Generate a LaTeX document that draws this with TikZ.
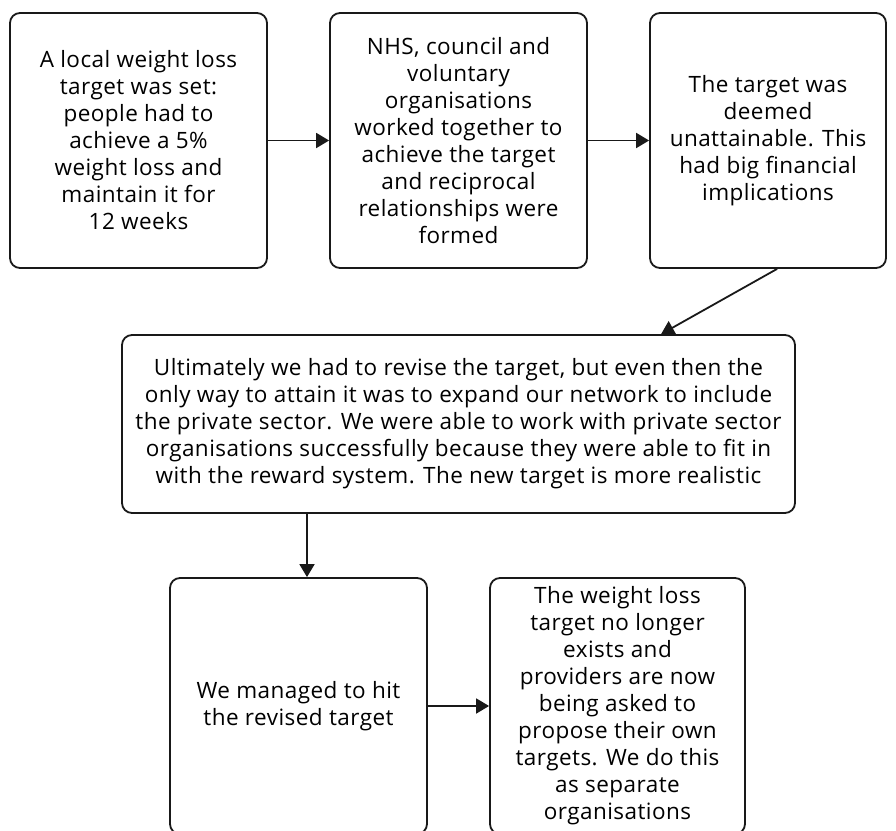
\documentclass[tikz,border=0pt]{standalone}
\usepackage{fontspec}
\setmainfont{Open Sans}[LetterSpace=2]
\usetikzlibrary{arrows.meta,calc}
\begin{document}
\begin{tikzpicture}[x=1pt,y=-1pt,
  box/.style={draw=black!90, line width=1.8pt, rounded corners=10pt,
    align=center, inner sep=0pt, font=\fontsize{22.5}{27}\selectfont},
  conn/.style={draw=black!90, line width=1.8pt,
    -{Triangle[length=13pt,width=15pt]}}]
\useasboundingbox (0,0) rectangle (896,830);
\clip (0,0) rectangle (896,830);

% top row
\node[box, minimum width=257pt, minimum height=255pt] (b1) at (138.5,140.5)
  {A local weight loss\\ target was set:\\ people had to\\ achieve a 5\%\\ weight loss and\\ maintain it for\\ 12 weeks};
\node[box, minimum width=257pt, minimum height=255pt] (b2) at (458.5,140.5)
  {NHS, council and\\ voluntary\\ organisations\\ worked together to\\ achieve the target\\ and reciprocal\\ relationships were\\ formed};
\node[box, minimum width=236pt, minimum height=255pt] (b3) at (768,140.5)
  {The target was\\ deemed\\ unattainable. This\\ had big financial\\ implications};

% middle row
\node[box, minimum width=673pt, minimum height=178pt] (b4) at (458.5,424)
  {Ultimately we had to revise the target, but even then the\\ only way to attain it was to expand our network to include\\ the private sector. We were able to work with private sector\\ organisations successfully because they were able to fit in\\ with the reward system. The new target is more realistic};

% bottom row (runs past the lower edge)
\node[box, minimum width=257pt, minimum height=256pt] (b5) at (298.5,706)
  {We managed to hit\\ the revised target};
\node[box, minimum width=255pt, minimum height=256pt] (b6) at (617.5,706)
  {The weight loss\\ target no longer\\ exists and\\ providers are now\\ being asked to\\ propose their own\\ targets. We do this\\ as separate\\ organisations};

% connectors
\coordinate (c34a) at ($(b3.south west)+(128,0)$);
\coordinate (c34b) at ($(b4.north west)+(540,0)$);
\coordinate (c45) at (307,0);

\draw[conn] (b1.east) -- (b2.west);
\draw[conn] (b2.east) -- (b3.west);
\draw[conn] (c34a) -- (c34b);
\draw[conn] (b4.south -| c45) -- (b5.north -| c45);
\draw[conn] (b5.east) -- (b6.west);
\end{tikzpicture}
\end{document}
